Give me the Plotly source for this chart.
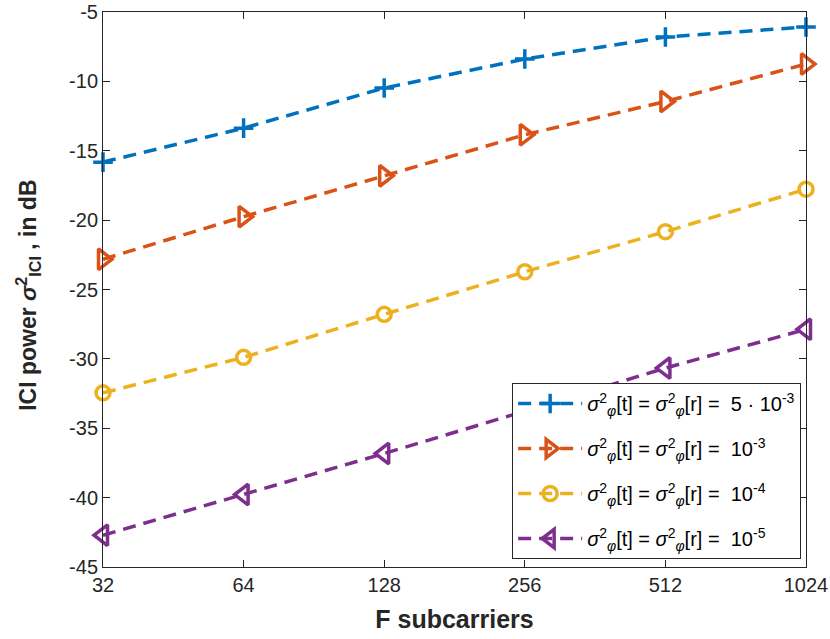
import plotly.graph_objects as go
import math

subcarriers = [32, 64, 128, 256, 512, 1024]
x_tick_labels = ["32", "64", "128", "256", "512", "1024"]
y_tick_vals = [-45, -40, -35, -30, -25, -20, -15, -10, -5]
y_tick_labels = ["-45", "-40", "-35", "-30", "-25", "-20", "-15", "-10", "-5"]
y_5e3 = [-15.82, -13.37, -10.48, -8.39, -6.80, -6.08]
y_1e3 = [-22.82, -19.75, -16.81, -13.85, -11.45, -8.75]
y_1e4 = [-32.45, -29.89, -26.79, -23.72, -20.83, -17.77]
y_1e5 = [-42.71, -39.78, -36.82, -33.77, -30.66, -27.87]

prefix = ("<i>σ</i><sup>2</sup><sub><i>φ</i></sub>[t] = "
          "<i>σ</i><sup>2</sup><sub><i>φ</i></sub>[r] =  ")
names = [prefix + "5 · 10<sup>-3</sup>", prefix + "10<sup>-3</sup>",
         prefix + "10<sup>-4</sup>", prefix + "10<sup>-5</sup>"]
series = [y_5e3, y_1e3, y_1e4, y_1e5]
colors = ["#0072BD", "#D95319", "#EDB120", "#7E2F8E"]
symbols = ["cross-thin-open", "triangle-right-open", "circle-open", "triangle-left-open"]
sizes = [14, 18, 14, 18]

fig = go.Figure()
for i, (ys, nm, c, s, sz) in enumerate(zip(series, names, colors, symbols, sizes)):
    fig.add_trace(go.Scatter(
        x=subcarriers, y=ys, name=nm, mode="lines+markers", legendgroup=f"g{i}",
        line=dict(color=c, width=3.5, dash="13px,8px"),
        marker=dict(symbol=s, size=sz, color=c, line=dict(color=c, width=3.5)),
        cliponaxis=False,
    ))

FONT = "Liberation Sans, Arial, sans-serif"
axis_common = dict(
    showline=True, linecolor="#262626", linewidth=1, mirror="ticks",
    ticks="inside", ticklen=7, tickcolor="#262626", tickwidth=1,
    showgrid=False, zeroline=False, automargin=False,
    ticklabeloverflow="allow",
    tickfont=dict(family=FONT, size=20, color="#262626"),
)

fig.update_layout(
    width=830, height=639,
    margin=dict(l=103, r=24, t=12, b=72),
    paper_bgcolor="white", plot_bgcolor="white",
    font=dict(family=FONT, color="#262626"),
    xaxis=dict(
        type="log", range=[math.log10(32) - 1e-6, math.log10(1024) + 1e-6],
        tickvals=subcarriers, ticktext=x_tick_labels,
        title=dict(text="<b>F subcarriers</b>", font=dict(size=25, color="#262626")),
        **axis_common,
    ),
    yaxis=dict(
        range=[-45, -5], tickvals=y_tick_vals, ticktext=y_tick_labels,
        **axis_common,
    ),
    annotations=[dict(
        text="<b>ICI power <i>σ</i><sup>2</sup><sub>ICI</sub> , in dB</b>",
        xref="paper", yref="paper", x=-0.107, y=0.49, textangle=-90,
        xanchor="center", yanchor="middle", showarrow=False,
        font=dict(family=FONT, size=23, color="#262626"),
    )],
    legend=dict(
        x=0.582, y=0.3315, xanchor="left", yanchor="top",
        bgcolor="white", bordercolor="#262626", borderwidth=1,
        font=dict(family=FONT, size=20, color="#000000"),
        tracegroupgap=16, itemwidth=64,
    ),
    showlegend=True,
)

fig.write_html(
    "out.html",
    config={"displayModeBar": False},
    post_script="document.body.style.margin='0';document.body.style.overflow='hidden';",
)
